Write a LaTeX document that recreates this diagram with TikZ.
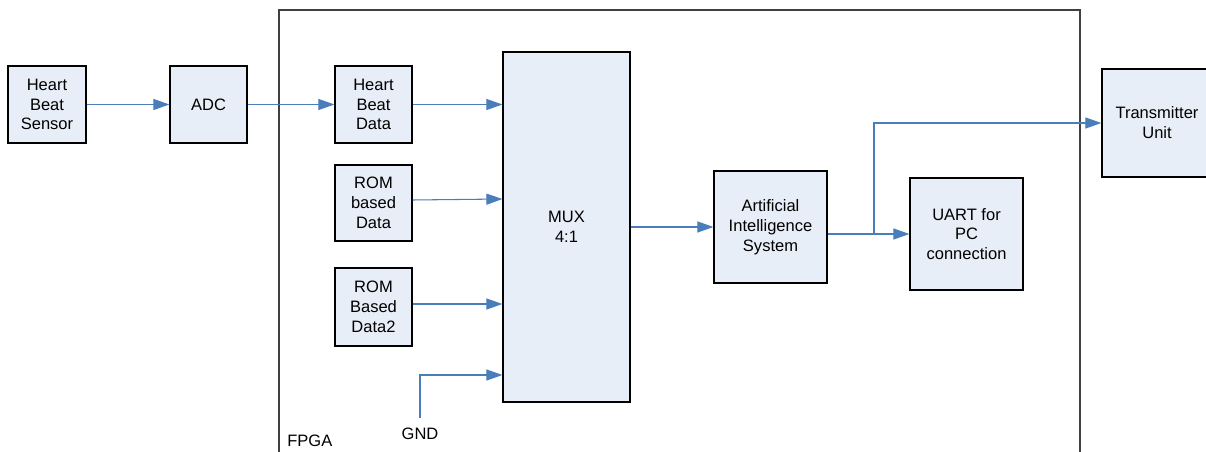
\documentclass[tikz,border=0pt]{standalone}
\usepackage{fontspec}
\setmainfont{Liberation Sans}
\usetikzlibrary{arrows.meta, positioning}
\definecolor{boxfill}{HTML}{E8EEF7}
\definecolor{flowblue}{HTML}{4A7EBB}
\definecolor{framegray}{HTML}{404040}

\begin{document}
\begin{tikzpicture}[
				x=0.02cm, y=-0.02cm,
				every node/.style={font=\fontsize{9.4}{11.3}\selectfont, align=center, inner sep=0pt},
				block/.style={draw=black, line width=0.7pt, fill=boxfill},
				flow/.style={draw=flowblue, line width=0.6pt, -{Triangle[length=0.32cm, width=0.22cm]}}
				]
				\useasboundingbox (0,0) rectangle (1206,452);
				\clip (0,0) rectangle (1206,452);
				
				% FPGA frame
				\draw[framegray, line width=0.7pt] (279,470) -- (279,10) -- (1080,10) -- (1080,470);
				\node[anchor=west] (fpga) at (287,441) {FPGA};
				
				% Nodes of the chain
				\node[block, minimum width=1.56cm, minimum height=1.54cm] (sensor) at (47,104.5) {Heart\\Beat\\Sensor};
				\node[block, minimum width=1.54cm, minimum height=1.54cm] (adc) at (208.5,104.5) {ADC};
				\node[block, minimum width=1.54cm, minimum height=1.54cm] (hbdata) at (373.5,104.5) {Heart\\Beat\\Data};
				\node[block, minimum width=1.54cm, minimum height=1.52cm] (rom1) at (373.5,203) {ROM\\based\\Data};
				\node[block, minimum width=1.54cm, minimum height=1.56cm] (rom2) at (373.5,307) {ROM\\Based\\Data2};
				\node[block, minimum width=2.54cm, minimum height=7cm] (mux) at (566.5,227) {MUX\\4:1};
				\node[block, minimum width=2.26cm, minimum height=2.24cm] (ai) at (770.5,227) {Artificial\\Intelligence\\System};
				\node[block, minimum width=2.26cm, minimum height=2.24cm] (uart) at (966.5,234) {UART for\\PC\\connection};
				\node[block, minimum width=2.2cm, minimum height=2.16cm] (tx) at (1157,123) {Transmitter\\Unit};
				\node (gnd) at (420,434) {GND};
				
				% Connectors
				\draw[flow] (sensor) -- (adc);
				\draw[flow] (adc) -- (hbdata);
				\draw[flow] (hbdata) -- (mux.west |- hbdata.east);
				\draw[flow] (rom1.east |- 0,200) -- (mux.west |- 0,199);
				\draw[flow] (rom2.east |- 0,304) -- (mux.west |- 0,304);
				\coordinate (gndtop) at (420,418);
				\draw[flow] (gndtop) |- (mux.west |- 0,375);
				\draw[flow] (mux.east |- ai.west) -- (ai);
				\draw[flow] (ai.east |- uart.west) -- (uart);
				\coordinate (split) at (874,234);
				\draw[flow] (split) |- (tx.west);
				
			\end{tikzpicture}
\end{document}
